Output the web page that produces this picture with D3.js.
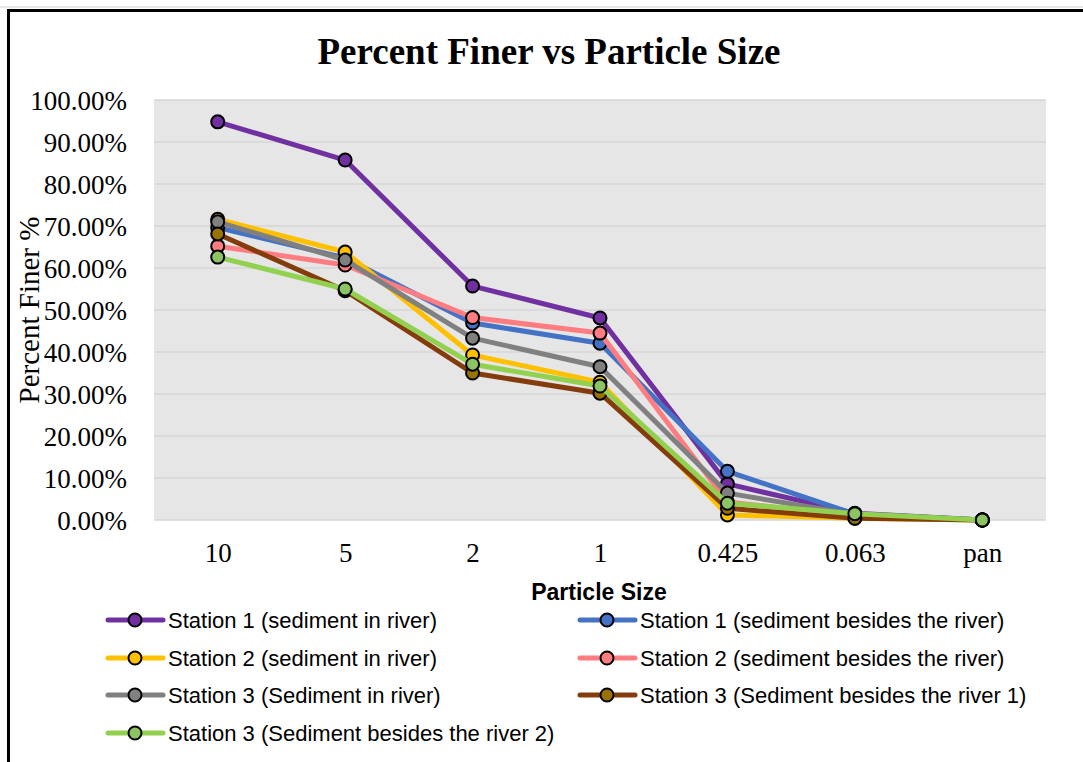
<!DOCTYPE html>
<html><head><meta charset="utf-8">
<script src="https://cdn.jsdelivr.net/npm/d3@7"></script>
<style>body{margin:0;background:#fff}svg{display:block}</style>
</head><body>
<svg id="c" width="1083" height="762"></svg>
<script>
const categories = ["10","5","2","1","0.425","0.063","pan"];
const yTicks = [0,10,20,30,40,50,60,70,80,90,100];
const seriesNames = [
  "Station 1 (sediment in river)",
  "Station 1 (sediment besides the river)",
  "Station 2 (sediment in river)",
  "Station 2 (sediment besides the river)",
  "Station 3 (Sediment in river)",
  "Station 3 (Sediment besides the river 1)",
  "Station 3 (Sediment besides the river 2)"
];
const s1River  = [94.8, 85.7, 55.7, 48.1, 8.6, 1.6, 0];
const s1Beside = [69.6, 62.4, 46.9, 42.1, 11.6, 1.4, 0];
const s2River  = [71.6, 63.8, 39.3, 32.8, 1.2, 0.4, 0];
const s2Beside = [65.2, 60.7, 48.2, 44.5, 4.3, 0.9, 0];
const s3River  = [71.0, 61.9, 43.3, 36.5, 6.4, 1.3, 0];
const s3Beside1= [68.1, 54.6, 35.0, 30.2, 2.8, 0.4, 0];
const s3Beside2= [62.6, 55.0, 37.1, 31.9, 4.0, 1.5, 0];
const lineColors = ["#7030A0","#4472C4","#FFC000","#FF7C80","#808080","#843C0C","#92D050"];
const markerColors = ["#7030A0","#4472C4","#FFC000","#FF7C80","#808080","#997300","#8CC464"];

const allSeries = [s1River,s1Beside,s2River,s2Beside,s3River,s3Beside1,s3Beside2];
const svg = d3.select("#c");
const serif = "'Liberation Serif','Times New Roman',serif";
const sans = "'Liberation Sans',Arial,sans-serif";

// frame
svg.append("line").attr("x1",0).attr("x2",1083).attr("y1",7).attr("y2",7).attr("stroke","#d0d0d0").attr("stroke-width",1);
svg.append("path").attr("d","M8.5,762 V10.5 H1083").attr("fill","none").attr("stroke","#000").attr("stroke-width",3);

const L=154, R=1046, T=100, B=520;
const x = d3.scalePoint().domain(categories).range([L,R]).padding(0.5);
const y = d3.scaleLinear().domain([0,100]).range([B,T]);

svg.append("rect").attr("x",L).attr("y",T).attr("width",R-L).attr("height",B-T).attr("fill","#E6E6E6");
svg.append("g").selectAll("line").data(yTicks).join("line")
  .attr("x1",L).attr("x2",R).attr("y1",d=>y(d)).attr("y2",d=>y(d))
  .attr("stroke","#D6D6D6").attr("stroke-width",1.5);

// y axis labels
const yAxis = d3.axisLeft(y).tickValues(yTicks).tickFormat(d=>d.toFixed(2)+"%").tickSize(0).tickPadding(0);
const gy = svg.append("g").attr("transform",`translate(127,0)`).call(yAxis);
gy.select(".domain").remove();
gy.selectAll("text").attr("font-family",serif).attr("font-size",27).attr("fill","#000").attr("dy","0.35em");

// x axis labels
const xAxis = d3.axisBottom(x).tickSize(0).tickPadding(0);
const gx = svg.append("g").attr("transform",`translate(0,543)`).call(xAxis);
gx.select(".domain").remove();
gx.selectAll("text").attr("font-family",serif).attr("font-size",27).attr("fill","#000").attr("dy","0.7em");

// titles
svg.append("text").attr("x",549).attr("y",64).attr("text-anchor","middle")
  .attr("font-family",serif).attr("font-weight","bold").attr("font-size",37).text("Percent Finer vs Particle Size");
svg.append("text").attr("transform","translate(39,310) rotate(-90)").attr("text-anchor","middle")
  .attr("font-family",serif).attr("font-size",29).text("Percent Finer %");
svg.append("text").attr("x",599).attr("y",600).attr("text-anchor","middle")
  .attr("font-family",sans).attr("font-weight","bold").attr("font-size",23).text("Particle Size");

// series
const line = d3.line().x((d,i)=>x(categories[i])).y(d=>y(d));
allSeries.forEach((s,k)=>{
  const g = svg.append("g");
  g.append("path").datum(s).attr("d",line).attr("fill","none")
    .attr("stroke",lineColors[k]).attr("stroke-width",5).attr("stroke-linejoin","round");
  g.selectAll("circle").data(s).join("circle")
    .attr("cx",(d,i)=>x(categories[i])).attr("cy",d=>y(d)).attr("r",6.5)
    .attr("fill",markerColors[k]).attr("stroke","#000").attr("stroke-width",2);
});

// legend
const legPos = [[108,620],[580,620],[108,658],[580,658],[108,695],[580,695],[108,733]];
seriesNames.forEach((n,k)=>{
  const [lx,ly] = legPos[k];
  const g = svg.append("g");
  g.append("line").attr("x1",lx).attr("x2",lx+55).attr("y1",ly).attr("y2",ly)
    .attr("stroke",lineColors[k]).attr("stroke-width",5).attr("stroke-linecap","round");
  g.append("circle").attr("cx",lx+27).attr("cy",ly).attr("r",6.5)
    .attr("fill",markerColors[k]).attr("stroke","#000").attr("stroke-width",2);
  g.append("text").attr("x",lx+60).attr("y",ly).attr("dy","0.35em")
    .attr("font-family",sans).attr("font-size",22).attr("fill","#000").text(n);
});
</script>
</body></html>
